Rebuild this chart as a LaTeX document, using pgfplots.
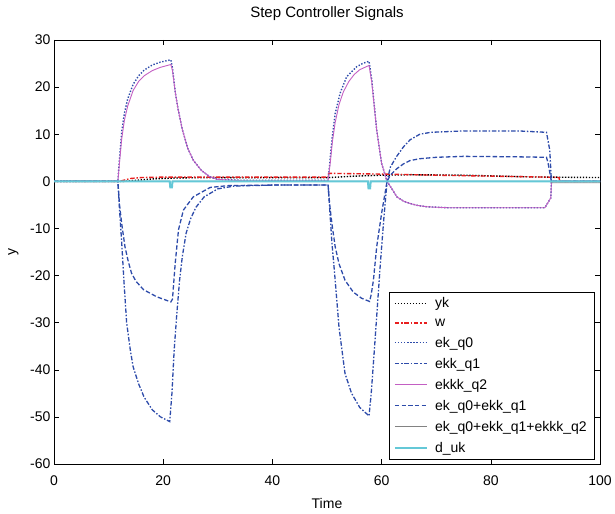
\documentclass[border=0pt]{standalone}
\usepackage{pgfplots}
\pgfplotsset{compat=1.18}
\usepackage{fontspec}
\setmainfont{Liberation Sans}

\definecolor{mblue}{RGB}{45,75,170}
\definecolor{mred}{RGB}{232,30,30}
\definecolor{mpurple}{RGB}{195,95,195}
\definecolor{mcyan}{RGB}{100,200,215}
\definecolor{mgray}{RGB}{130,130,130}

\tikzset{
  s yk/.style={draw=black, line width=1.4pt, dash pattern=on 1.4pt off 1.6pt},
  s w/.style={draw=mred, line width=1.4pt, dash pattern=on 4.5pt off 1.8pt on 1.5pt off 1.8pt},
  s q0/.style={draw=mblue, line width=1.4pt, dash pattern=on 1.4pt off 1.7pt},
  s q1/.style={draw=mblue, line width=1.3pt, dash pattern=on 4.5pt off 1.8pt on 1.5pt off 1.8pt},
  s q2/.style={draw=mpurple, line width=0.9pt, solid},
  s q01/.style={draw=mblue, line width=1.3pt, dash pattern=on 4.5pt off 2.2pt},
  s q012/.style={draw=mgray, line width=0.9pt, solid},
  s duk/.style={draw=mcyan, line width=2pt, solid},
}

\begin{document}
\begin{tikzpicture}
\begin{axis}[
    width=546bp, height=424bp, scale only axis,
    xmin=0, xmax=100, ymin=-60, ymax=30,
    xtick={0,20,...,100}, ytick={-60,-50,...,30},
    tick align=inside, major tick length=5bp,
    tick style={black, line width=0.5pt},
    axis line style={line width=0.6pt},
    /pgf/number format/assume math mode=true,
    ticklabel style={font=\fontsize{14bp}{16bp}\selectfont},
    xticklabel style={yshift=-8bp},
    label style={font=\fontsize{14bp}{16bp}\selectfont},
    title style={font=\fontsize{15bp}{18bp}\selectfont, yshift=10bp},
    title={Step Controller Signals},
    xlabel={Time}, ylabel={y},
    xlabel style={yshift=-6bp}, ylabel style={yshift=5bp},
    legend cell align=left,
    legend style={at={(0.989,0.012)}, anchor=south east,
        inner xsep=5bp, inner ysep=3bp, row sep=5.4bp,
        font=\fontsize{14bp}{16bp}\selectfont},
]
\addplot[s yk, forget plot] coordinates {
(0,0) (13,0) (15,0.2) (18,0.5) (22,0.7) (27,0.8) (50,0.8) (52,0.9) (55,1.1)
(60,1.3) (65,1.4) (75,1.3) (85,1.0) (90,0.9) (100,0.8)};
\addplot[s w, forget plot] coordinates {
(0,0) (12,0) (13,0.3) (14,0.6) (16,0.8) (20,0.9) (50.2,0.9) (50.3,1.7) (56,1.6)
(62,1.5) (70,1.3) (80,1.1) (90,0.9) (92.5,0.8) (92.6,0) (100,0)};
\addplot[s q0, forget plot] coordinates {
(0,0) (11.7,0) (12.0,5) (12.4,10.5) (12.9,14.5) (13.5,17.5) (14.5,20.6) (15.5,22.4)
(16.5,23.6) (18,24.7) (19.5,25.3) (21.4,25.8) (21.7,24) (22.2,19) (22.7,15.5)
(23.5,11) (24.5,7) (25.5,4.5) (27,2.3) (28.5,1) (30,0.4) (35,0.2) (50.2,0.2)
(50.6,5) (50.9,8.8) (51.5,14.4) (52.4,18.7) (53.6,22.2) (55.4,24.3) (56.5,25)
(57.7,25.5) (58.2,21.5) (59.1,10.9) (60,3.8) (61,0) (62,-1.8) (62.8,-3.3) (64,-4.2)
(65.2,-4.7) (66.5,-5.1) (68.3,-5.4) (72,-5.6) (89.9,-5.6) (91,-3.5) (91.1,0) (100,0)};
\addplot[s q1, forget plot] coordinates {
(0,0) (11.7,0) (12.0,-6) (12.4,-13) (12.8,-21) (13.3,-30) (14,-36) (14.5,-39.4)
(15.5,-43) (16.5,-45.8) (18,-48.5) (19.5,-50) (21.2,-51) (21.6,-45) (22.0,-36)
(22.5,-28) (23.0,-21) (23.5,-16) (24.2,-11) (25,-8) (26,-5.5) (27.5,-3.3) (30,-1.6)
(33,-1.0) (40,-0.8) (50.2,-0.8)
(50.5,-6) (50.9,-13) (51.5,-21) (52.2,-31) (53.3,-40.8) (54.5,-45) (56,-48)
(57.7,-49.8) (58.1,-45) (58.6,-37) (59.2,-27) (59.8,-17) (60.4,-8) (61,0) (61.6,3)
(62.7,5.2) (64,7.3) (65.2,8.8) (67,10) (69,10.4) (75,10.7) (85,10.7) (90.2,10.4)
(90.8,6.6) (91.1,0) (100,0)};
\addplot[s q2, forget plot] coordinates {
(0,0) (11.7,0) (12.0,4) (12.4,9) (12.9,13) (13.5,16) (14.5,19.3) (15.5,21.2)
(16.5,22.4) (18,23.5) (19.5,24.2) (21.4,24.8) (21.7,23.5) (22.2,19) (22.7,15.5)
(23.5,11) (24.5,7) (25.5,4.5) (27,2.3) (28.5,1) (30,0.4) (35,0.1) (50.2,0.1)
(50.6,4) (51,8.5) (51.5,12.5) (52.2,16.3) (53,19) (54,21.2) (55,22.7) (56,23.7)
(57.7,24.6) (58.2,21) (59.1,10.9) (60,3.8) (61,0) (62,-1.8) (62.8,-3.3) (64,-4.2)
(65.2,-4.7) (66.5,-5.1) (68.3,-5.4) (72,-5.6) (89.9,-5.6) (91,-3.5) (91.1,0) (100,0)};
\addplot[s q01, forget plot] coordinates {
(0,0) (11.7,0) (12.0,-5) (12.4,-9) (13,-13.9) (13.6,-17) (14.2,-19.5) (15,-21.2)
(16.4,-23) (18.8,-24.5) (21.4,-25.6) (21.7,-25) (22.2,-17.4) (22.8,-10.3)
(23.7,-6.1) (25.5,-3.3) (28.6,-1.3) (32,-0.9) (40,-0.8) (50.2,-0.8)
(50.5,-5) (50.9,-9) (51.5,-13.9) (52.2,-17.5) (53.3,-21) (54.8,-23.5) (56.3,-24.8)
(57.8,-25.5) (58.1,-24) (58.5,-21) (59.1,-13.9) (60,-6.8) (61,0) (61.6,1.3)
(62.7,2.6) (64,3.7) (65.2,4.4) (67,4.8) (70,5.1) (75,5.3) (85,5.2) (90.2,5.1)
(90.5,3.8) (91.1,0) (100,0)};
\addplot[s q012, forget plot] coordinates {
(0,0) (21.2,0) (21.3,-1.3) (21.6,-1.3) (21.7,0) (57.5,0) (57.6,-1.5) (57.9,-1.5)
(58,0) (91,0) (91.1,-0.3) (100,-0.3)};
\addplot[s duk, forget plot] coordinates {
(0,0) (21.2,0) (21.3,-1.3) (21.6,-1.3) (21.7,0) (57.5,0) (57.6,-1.5) (57.9,-1.5)
(58,0) (100,0)};
% legend entries, drawn with explicit samples
\addlegendimage{legend image code/.code={\draw[s yk] (0bp,0bp) -- (32bp,0bp); \path (38bp,0bp);}}
\addlegendentry{yk}
\addlegendimage{legend image code/.code={\draw[s w] (0bp,0bp) -- (32bp,0bp); \path (38bp,0bp);}}
\addlegendentry{w}
\addlegendimage{legend image code/.code={\draw[s q0] (0bp,0bp) -- (32bp,0bp); \path (38bp,0bp);}}
\addlegendentry{ek\_q0}
\addlegendimage{legend image code/.code={\draw[s q1] (0bp,0bp) -- (32bp,0bp); \path (38bp,0bp);}}
\addlegendentry{ekk\_q1}
\addlegendimage{legend image code/.code={\draw[s q2] (0bp,0bp) -- (32bp,0bp); \path (38bp,0bp);}}
\addlegendentry{ekkk\_q2}
\addlegendimage{legend image code/.code={\draw[s q01] (0bp,0bp) -- (32bp,0bp); \path (38bp,0bp);}}
\addlegendentry{ek\_q0+ekk\_q1}
\addlegendimage{legend image code/.code={\draw[s q012] (0bp,0bp) -- (32bp,0bp); \path (38bp,0bp);}}
\addlegendentry{ek\_q0+ekk\_q1+ekkk\_q2}
\addlegendimage{legend image code/.code={\draw[s duk] (0bp,0bp) -- (32bp,0bp); \path (38bp,0bp);}}
\addlegendentry{d\_uk}
\end{axis}
\pgfresetboundingbox
\path ([shift={(-54bp,-50bp)}]current axis.south west) rectangle
      ([shift={(15bp,40bp)}]current axis.north east);
\end{tikzpicture}
\end{document}
